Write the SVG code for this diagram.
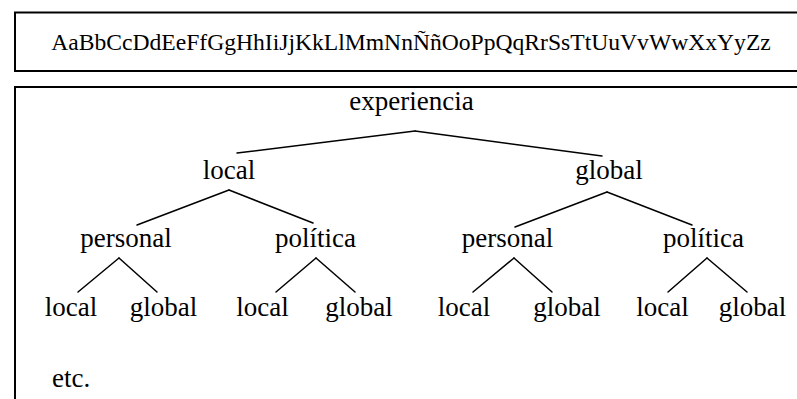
<svg xmlns="http://www.w3.org/2000/svg" width="797" height="399" viewBox="0 0 797 399">
<style>
.t{font-family:"Liberation Serif","Times New Roman",serif;font-size:27px;fill:#000;text-anchor:middle}
.h{font-family:"Liberation Serif","Times New Roman",serif;font-size:23.6px;fill:#000;text-anchor:middle}
.b{fill:none;stroke:#000;stroke-width:2}
.c line{stroke:#000;stroke-width:1.5;stroke-linecap:round}
</style>
<rect width="797" height="399" fill="#fff"/>
<g id="frames">
<path class="b" d="M800 12.5H15V71H800"/>
<path class="b" d="M800 87H15V402"/>
</g>
<g id="alphabet"><text class="h" x="411" y="50">AaBbCcDdEeFfGgHhIiJjKkLlMmNnÑñOoPpQqRrSsTtUuVvWwXxYyZz</text></g>
<g class="c" id="connectors">
<line x1="415" y1="131" x2="237" y2="153"/>
<line x1="415" y1="131" x2="602" y2="156"/>
<line x1="229" y1="190" x2="137" y2="225"/>
<line x1="229" y1="190" x2="313" y2="223"/>
<line x1="607" y1="192" x2="515" y2="227"/>
<line x1="607" y1="192" x2="692" y2="225"/>
<line x1="119" y1="258" x2="78" y2="292"/>
<line x1="119" y1="258" x2="157" y2="292"/>
<line x1="316" y1="258" x2="276" y2="292"/>
<line x1="316" y1="258" x2="355" y2="292"/>
<line x1="514" y1="258" x2="473" y2="292"/>
<line x1="514" y1="258" x2="552" y2="292"/>
<line x1="707" y1="258" x2="668" y2="292"/>
<line x1="707" y1="258" x2="747" y2="292"/>
</g>
<g id="n-experiencia"><text class="t" x="411.5" y="110">experiencia</text></g>
<g id="n-local"><text class="t" x="229" y="179">local</text></g>
<g id="n-global"><text class="t" x="609" y="179">global</text></g>
<g id="n-local-personal"><text class="t" x="126" y="247">personal</text></g>
<g id="n-local-politica"><text class="t" x="315.5" y="247">política</text></g>
<g id="n-global-personal"><text class="t" x="507.5" y="247">personal</text></g>
<g id="n-global-politica"><text class="t" x="703.5" y="247">política</text></g>
<g id="n-leaf1"><text class="t" x="71" y="316">local</text></g>
<g id="n-leaf2"><text class="t" x="163.5" y="316">global</text></g>
<g id="n-leaf3"><text class="t" x="262.5" y="316">local</text></g>
<g id="n-leaf4"><text class="t" x="359" y="316">global</text></g>
<g id="n-leaf5"><text class="t" x="464" y="316">local</text></g>
<g id="n-leaf6"><text class="t" x="567" y="316">global</text></g>
<g id="n-leaf7"><text class="t" x="662.5" y="316">local</text></g>
<g id="n-leaf8"><text class="t" x="752.5" y="316">global</text></g>
<g id="n-etc"><text class="t" x="52" y="387" style="text-anchor:start">etc.</text></g>
</svg>
